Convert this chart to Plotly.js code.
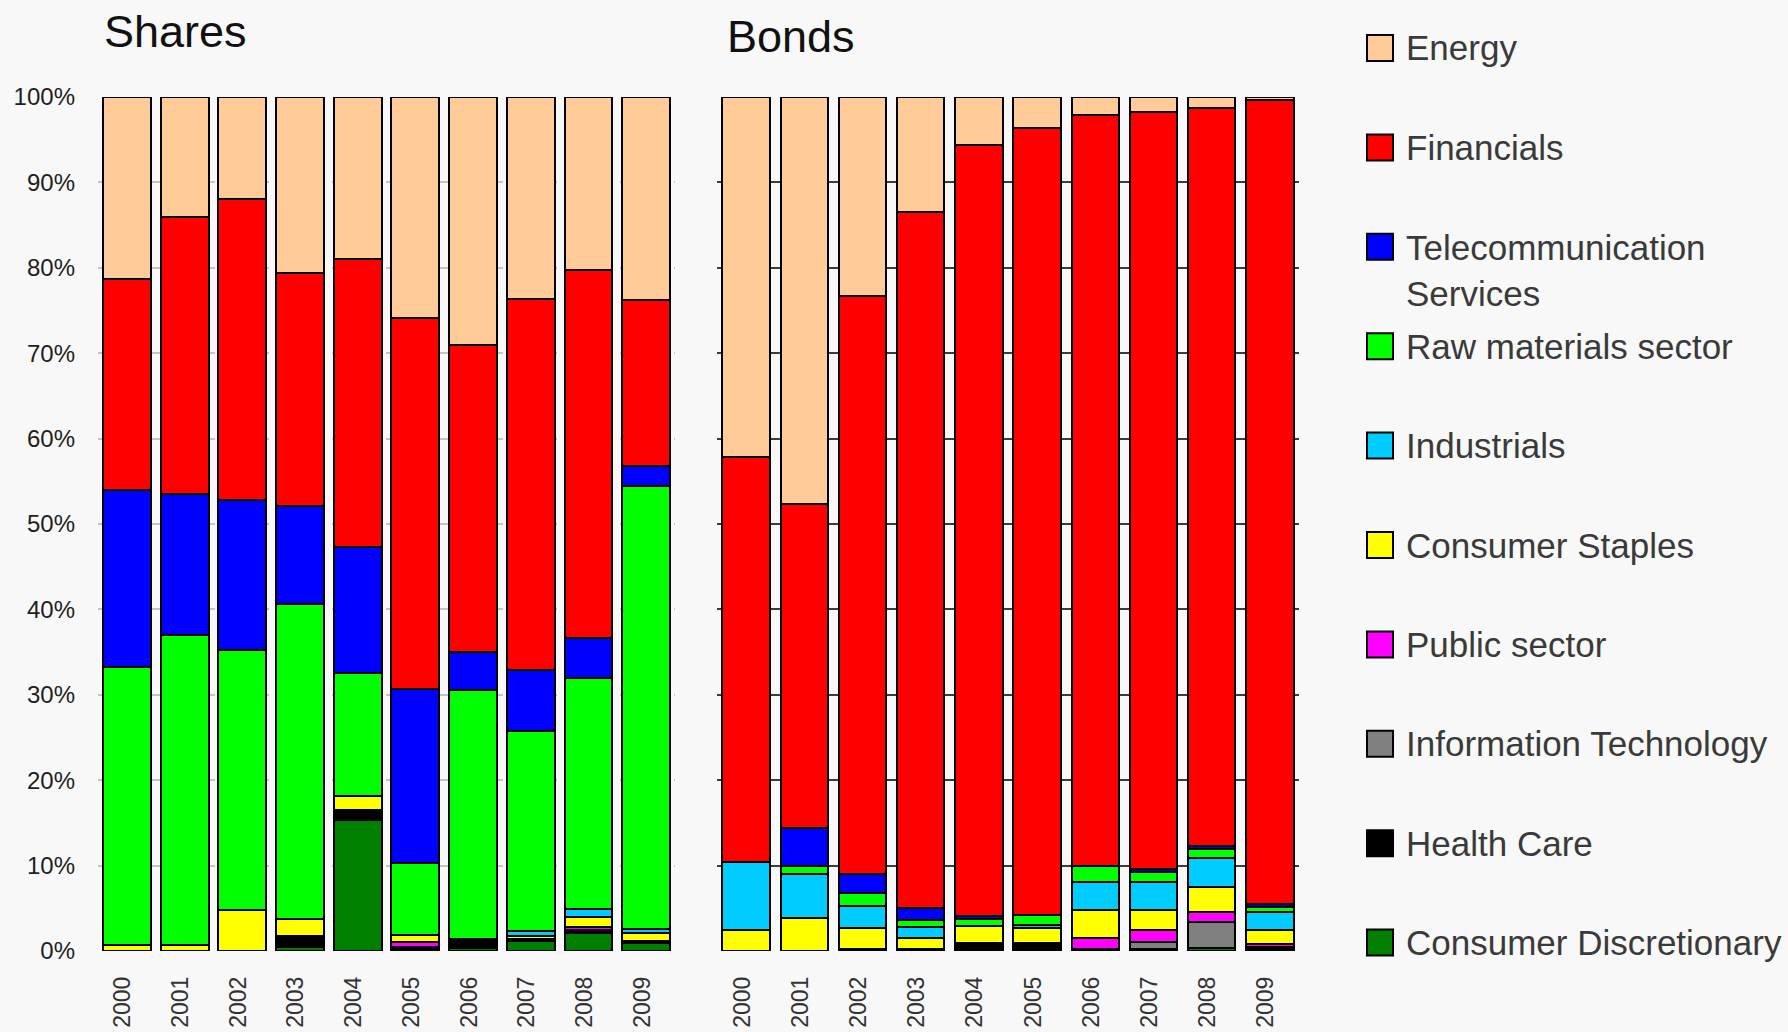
<!DOCTYPE html>
<html>
<head>
<meta charset="utf-8">
<script src="https://cdn.plot.ly/plotly-3.0.1.min.js"></script>
<style>
  html, body { margin: 0; padding: 0; background: #f8f8f8; }
  #graph { width: 1788px; height: 1032px; }
</style>
</head>
<body>
<div id="graph"></div>
<script>
const years = ["2000", "2001", "2002", "2003", "2004", "2005", "2006", "2007", "2008", "2009"];

// sectors from the bottom of each stack to the top
const sectors = [
  "Consumer Discretionary",
  "Health Care",
  "Information Technology",
  "Public sector",
  "Consumer Staples",
  "Industrials",
  "Raw materials sector",
  "Telecommunication<br>Services",
  "Financials",
  "Energy"
];
const colors = ["#007f00", "#000000", "#808080", "#ff00ff", "#ffff00", "#00ccff", "#00ff00", "#0000ff", "#ff0000", "#ffcc99"];

// shares, % of total
const sharesConsDisc = [0, 0, 0, 0.5, 15.35, 0, 0.35, 1.15, 2.05, 0.9];
const sharesHealth = [0, 0, 0, 1.25, 1.15, 0.5, 1.0, 0.25, 0.4, 0.3];
const sharesIT = [0, 0, 0, 0, 0, 0, 0, 0, 0, 0];
const sharesPublic = [0, 0, 0, 0, 0, 0.6, 0, 0, 0.35, 0];
const sharesStaples = [0.7, 0.7, 4.8, 2.05, 1.6, 0.8, 0, 0.4, 1.15, 0.9];
const sharesIndustrials = [0, 0, 0, 0, 0, 0, 0, 0.5, 0.95, 0.5];
const sharesRaw = [32.5, 36.3, 30.4, 36.8, 14.5, 8.4, 29.25, 23.5, 27.1, 51.8];
const sharesTelecom = [20.8, 16.5, 17.6, 11.5, 14.7, 20.4, 4.4, 7.1, 4.6, 2.4];
const sharesFinancials = [24.7, 32.5, 35.2, 27.3, 33.7, 43.4, 36.0, 43.4, 43.1, 19.4];
const sharesEnergy = [21.3, 14.0, 12.0, 20.6, 19.0, 25.9, 29.0, 23.7, 20.3, 23.8];

// bonds, % of total
const bondsConsDisc = [0, 0, 0, 0, 0.25, 0, 0, 0, 0.35, 0];
const bondsHealth = [0, 0, 0.2, 0.2, 0.65, 0.95, 0.2, 0.2, 0, 0.45];
const bondsIT = [0, 0, 0, 0, 0, 0, 0, 0.85, 3.05, 0];
const bondsPublic = [0, 0, 0, 0, 0, 0, 1.3, 1.4, 1.2, 0.35];
const bondsStaples = [2.45, 3.85, 2.5, 1.3, 2.0, 1.75, 3.25, 2.3, 2.95, 1.65];
const bondsIndustrials = [7.95, 5.15, 2.55, 1.3, 0, 0.3, 3.3, 3.3, 3.35, 2.1];
const bondsRaw = [0, 0.9, 1.6, 0.8, 0.9, 1.25, 1.95, 1.15, 1.05, 0.65];
const bondsTelecom = [0, 4.55, 2.15, 1.4, 0.3, 0, 0, 0.35, 0.35, 0.35];
const bondsFinancials = [47.4, 37.85, 67.7, 81.5, 90.3, 92.15, 87.9, 88.75, 86.4, 94.05];
const bondsEnergy = [42.2, 47.7, 23.3, 13.5, 5.6, 3.6, 2.1, 1.7, 1.3, 0.4];

const shares = [sharesConsDisc, sharesHealth, sharesIT, sharesPublic, sharesStaples,
  sharesIndustrials, sharesRaw, sharesTelecom, sharesFinancials, sharesEnergy];
const bonds = [bondsConsDisc, bondsHealth, bondsIT, bondsPublic, bondsStaples,
  bondsIndustrials, bondsRaw, bondsTelecom, bondsFinancials, bondsEnergy];

const W = 1788;
const H = 1032;
const FONT = "'Liberation Sans', Arial, sans-serif";

const px = (x) => x / W;
const py = (y) => 1 - y / H;

function makeTraces(values, xa, ya, width) {
  return values.map((v, i) => ({
    type: "bar",
    x: years,
    y: v,
    xaxis: xa,
    yaxis: ya,
    width: width,
    name: sectors[i],
    marker: { color: colors[i], line: { color: "#000", width: 2 } },
    showlegend: false,
    hoverinfo: "skip"
  }));
}

function legendItems() {
  let shapes = [];
  let notes = [];
  // legend runs top to bottom from Energy down to Consumer Discretionary
  for (let k = 0; k < sectors.length; k++) {
    const i = sectors.length - 1 - k;
    const cy = 48 + k * 99.4;
    shapes.push({
      type: "rect",
      xref: "paper",
      yref: "paper",
      x0: px(1367),
      x1: px(1393),
      y0: py(cy - 13),
      y1: py(cy + 13),
      fillcolor: colors[i],
      line: { color: "#000", width: 2 }
    });
    const twoLines = sectors[i].includes("<br>");
    notes.push({
      xref: "paper",
      yref: "paper",
      x: px(1404),
      y: py(twoLines ? cy + 24 : cy),
      xanchor: "left",
      yanchor: "middle",
      align: "left",
      showarrow: false,
      text: sectors[i],
      font: { family: FONT, size: 35, color: "#3a3a3a" }
    });
  }
  return { shapes, notes };
}

function initChart() {
  const data = makeTraces(shares, "x", "y", 0.83).concat(makeTraces(bonds, "x2", "y2", 0.815));

  const leg = legendItems();
  const yDomain = [py(951), py(97)];
  const xTickFont = { family: FONT, size: 23, color: "#333" };

  const layout = {
    width: W,
    height: H,
    barmode: "stack",
    paper_bgcolor: "#f8f8f8",
    plot_bgcolor: "rgba(0,0,0,0)",
    margin: { l: 0, r: 0, t: 0, b: 0 },
    showlegend: false,
    font: { family: FONT },
    xaxis: {
      domain: [px(98), px(675)],
      type: "category",
      tickangle: -90,
      tickfont: xTickFont,
      ticks: "",
      ticklabelstandoff: 20,
      ticklabelshift: -4,
      showgrid: false,
      zeroline: false,
      showline: false,
      fixedrange: true
    },
    yaxis: {
      domain: yDomain,
      range: [0, 100],
      dtick: 10,
      ticksuffix: "%",
      tickfont: { family: FONT, size: 24, color: "#1e1e1e" },
      ticks: "",
      ticklabelstandoff: 22,
      showgrid: true,
      gridcolor: "#c4c4c4",
      griddash: "dash",
      gridwidth: 2,
      zeroline: false,
      showline: false,
      fixedrange: true
    },
    xaxis2: {
      domain: [px(717), px(1299)],
      anchor: "y2",
      type: "category",
      tickangle: -90,
      tickfont: xTickFont,
      ticks: "",
      ticklabelstandoff: 20,
      ticklabelshift: -4,
      showgrid: false,
      zeroline: false,
      showline: false,
      fixedrange: true
    },
    yaxis2: {
      domain: yDomain,
      anchor: "x2",
      range: [0, 100],
      dtick: 10,
      showticklabels: false,
      ticks: "",
      showgrid: true,
      gridcolor: "#3c3c3c",
      gridwidth: 2,
      zeroline: false,
      showline: false,
      fixedrange: true
    },
    shapes: leg.shapes,
    annotations: [
      {
        xref: "paper", yref: "paper", x: px(102), y: py(31),
        xanchor: "left", yanchor: "middle", showarrow: false,
        text: "Shares", font: { family: FONT, size: 45, color: "#111" }
      },
      {
        xref: "paper", yref: "paper", x: px(725), y: py(37),
        xanchor: "left", yanchor: "middle", showarrow: false,
        text: "Bonds", font: { family: FONT, size: 45, color: "#111" }
      }
    ].concat(leg.notes)
  };

  Plotly.newPlot("graph", data, layout, { displayModeBar: false, staticPlot: true });
}

window.addEventListener("load", initChart);
</script>
</body>
</html>
